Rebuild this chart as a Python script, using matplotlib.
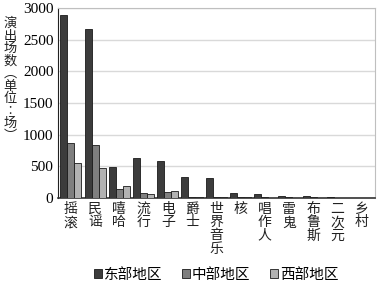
import numpy as np
import matplotlib
matplotlib.use("Agg")
from matplotlib import pyplot as plt

plt.rcParams['font.family'] = ['Noto Sans CJK SC', 'DejaVu Sans']

# genres and show counts by region
genres = ["摇滚", "民谣", "嘻哈", "流行", "电子", "爵士", "世界音乐", "核",
          "唱作人", "雷鬼", "布鲁斯", "二次元", "乡村"]
east = [2890, 2670, 490, 640, 590, 340, 310, 80, 60, 30, 40, 20, 5]
central = [870, 840, 140, 80, 90, 20, 20, 20, 10, 10, 10, 5, 5]
west = [560, 470, 190, 70, 110, 10, 20, 10, 5, 5, 5, 5, 5]
series_names = ["东部地区", "中部地区", "西部地区"]
yticks = [0, 500, 1000, 1500, 2000, 2500, 3000]

colors = ["#3c3c3c", "#7f7f7f", "#b2b2b2"]

fig = plt.figure(figsize=(3.84, 2.85), dpi=100)
ax = fig.add_axes([0.150, 0.305, 0.826, 0.667])

x = np.arange(len(genres))
w = 0.29
for i, (vals, col, name) in enumerate(zip([east, central, west], colors, series_names)):
    ax.bar(x + (i - 1) * w, vals, width=w, color=col, edgecolor="#1a1a1a",
           linewidth=0.6, label=name, zorder=3)

ax.set_xlim(-0.55, len(genres) - 0.45)
ax.set_ylim(0, 3000)
ax.set_yticks(yticks)
ax.set_yticklabels([str(t) for t in yticks], family="Liberation Serif", fontsize=11)
ax.yaxis.grid(True, color="#d9d9d9", linewidth=1, zorder=0)
ax.tick_params(axis="y", length=0, pad=3)
ax.tick_params(axis="x", length=0, pad=3)

# vertical stacked category labels
ax.set_xticks(x)
ax.set_xticklabels(["\n".join(g) for g in genres], fontsize=10,
                   linespacing=0.92, va="top", color="#222222")

for side in ["top", "right"]:
    ax.spines[side].set_color("#bfbfbf")
ax.spines["left"].set_color("#222222")
ax.spines["bottom"].set_color("#333333")
ax.spines["bottom"].set_linewidth(1.2)

fig.text(0.027, 0.72, "\n".join("演出场数") + "\n︵\n单\n位\n︰\n场\n︶", fontsize=9.5,
         ha="center", va="center", linespacing=0.95, color="#222222")

ax.legend(loc="lower center", bbox_to_anchor=(0.5, -0.47), ncol=3, frameon=False,
          fontsize=10.5, handlelength=0.55, handleheight=0.55, handletextpad=0.15,
          columnspacing=1.3, borderaxespad=0)

fig.savefig("out.png", dpi=100)
